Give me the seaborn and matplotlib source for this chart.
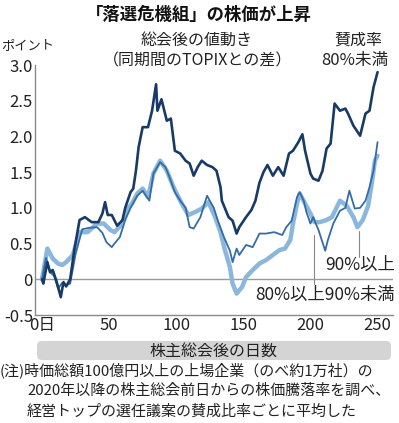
import matplotlib
matplotlib.use("Agg")
import matplotlib.pyplot as plt
from matplotlib.patches import FancyBboxPatch
import seaborn as sns
import pandas as pd

# ---- data ----
days_low = [0, 1, 4, 6, 8, 11, 14, 16, 18, 21, 24, 28, 32, 37, 42, 45, 47, 49, 52, 56,
            60, 62, 66, 68, 70, 72, 75, 79, 82, 85, 86, 89, 93, 96, 99, 103, 107, 110,
            113, 116, 119, 123, 127, 130, 133, 134, 139, 142, 145, 147, 152, 156, 159,
            162, 165, 168, 172, 176, 180, 184, 187, 191, 194, 196, 200, 202, 206, 209,
            212, 215, 218, 222, 226, 228, 232, 237, 241, 244, 247, 250]
vals_low = [0.0, -0.06, 0.24, 0.10, 0.13, -0.04, -0.25, -0.04, -0.10, 0.0, 0.40, 0.83,
            0.87, 0.80, 0.80, 0.92, 1.08, 0.90, 0.90, 0.75, 0.83, 1.00, 1.22, 1.27, 1.52,
            1.85, 2.13, 2.13, 2.36, 2.73, 2.36, 2.52, 2.22, 2.25, 1.80, 1.76, 1.66, 1.62,
            1.45, 1.57, 1.66, 1.60, 1.57, 1.52, 1.29, 1.10, 0.87, 0.82, 0.64, 0.73, 0.87,
            0.97, 1.10, 1.35, 1.50, 1.60, 1.45, 1.57, 1.45, 1.76, 1.80, 1.92, 2.03, 1.80,
            1.48, 1.41, 1.38, 1.52, 1.83, 1.90, 2.46, 2.36, 2.39, 2.32, 2.15, 2.01, 2.32,
            2.36, 2.69, 2.90]

days_mid = [0, 3, 6, 9, 12, 15, 18, 21, 25, 30, 35, 41, 45, 48, 52, 54, 58, 62, 66, 71,
            75, 80, 83, 88, 92, 95, 99, 103, 107, 110, 113, 118, 123, 125, 128, 131, 136,
            140, 142, 145, 147, 152, 157, 162, 167, 173, 179, 182, 186, 190, 192, 195,
            197, 200, 202, 206, 211, 213, 217, 222, 226, 229, 233, 237, 241, 244, 247, 250]
vals_mid = [0.0, 0.30, 0.10, 0.05, -0.13, -0.05, -0.08, -0.06, 0.35, 0.70, 0.72, 0.73,
            0.65, 0.52, 0.45, 0.50, 0.59, 0.83, 1.00, 1.17, 1.24, 1.10, 1.48, 1.64, 1.57,
            1.43, 1.22, 1.10, 1.00, 0.73, 0.71, 0.87, 1.17, 1.10, 1.00, 0.82, 0.57, 0.40,
            0.24, 0.43, 0.34, 0.48, 0.45, 0.64, 0.64, 0.66, 0.62, 0.73, 0.82, 1.15, 1.22,
            1.10, 0.94, 0.78, 0.87, 0.69, 0.40, 0.55, 0.78, 0.96, 1.00, 1.24, 0.99, 1.00,
            1.10, 1.29, 1.52, 1.92]

days_high = [0, 4, 8, 12, 15, 18, 23, 28, 34, 41, 46, 51, 54, 60, 63, 67, 71, 75, 79, 83,
             88, 93, 98, 103, 109, 114, 119, 124, 129, 133, 136, 140, 142, 145, 149, 152,
             157, 162, 167, 172, 177, 181, 185, 187, 190, 192, 196, 200, 203, 207, 212,
             216, 222, 227, 232, 235, 239, 243, 246, 248, 250]
vals_high = [0.0, 0.43, 0.29, 0.22, 0.20, 0.24, 0.34, 0.66, 0.66, 0.78, 0.78, 0.69, 0.66,
             0.78, 0.97, 1.06, 1.20, 1.27, 1.15, 1.48, 1.66, 1.52, 1.29, 1.10, 0.90, 0.94,
             0.99, 1.08, 0.87, 0.66, 0.43, 0.17, -0.06, -0.20, -0.11, 0.03, 0.13, 0.22,
             0.27, 0.34, 0.41, 0.43, 0.55, 0.78, 1.06, 1.20, 1.06, 0.92, 0.80, 0.80, 0.83,
             0.87, 1.10, 1.03, 0.87, 0.73, 0.83, 1.03, 1.38, 1.66, 1.73]

y_ticks = [-0.5, 0, 0.5, 1.0, 1.5, 2.0, 2.5, 3.0]
y_ticklabels = ["-0.5", "0", "0.5", "1.0", "1.5", "2.0", "2.5", "3.0"]
x_ticks = [0, 50, 100, 150, 200, 250]
x_ticklabels = ["0日", "50", "100", "150", "200", "250"]

# ---- style ----
sns.set_style("white")
plt.rcParams['font.family'] = ['Noto Sans CJK JP', 'DejaVu Sans']

W, H = 399, 423
fig = plt.figure(figsize=(W / 100, H / 100), dpi=100)
ax = fig.add_axes([35 / W, 1 - 315 / H, (393 - 35) / W, (315 - 65) / H])

c_low = "#173a66"
c_mid = "#336ca8"
c_high = "#8bb7dc"

df_high = pd.DataFrame({"day": days_high, "v": vals_high})
df_mid = pd.DataFrame({"day": days_mid, "v": vals_mid})
df_low = pd.DataFrame({"day": days_low, "v": vals_low})

ax.axhline(0, color="#9a9a9a", lw=1.0, zorder=1)
sns.lineplot(data=df_high, x="day", y="v", ax=ax, color=c_high, lw=3.2, zorder=3)
sns.lineplot(data=df_mid, x="day", y="v", ax=ax, color=c_mid, lw=1.3, zorder=4)
sns.lineplot(data=df_low, x="day", y="v", ax=ax, color=c_low, lw=1.9, zorder=5)

# leader lines
ax.plot([236, 236], [0.68, 0.31], color="#888888", lw=0.8, zorder=2)
ax.plot([203, 203], [0.62, -0.06], color="#888888", lw=0.8, zorder=2)

ax.set_xlim(-5.2, 261.5)
ax.set_ylim(-0.5, 3.0)
ax.set_xlabel("")
ax.set_ylabel("")
ax.set_xticks(x_ticks)
ax.set_xticklabels(x_ticklabels)
ax.set_yticks(y_ticks)
ax.set_yticklabels(y_ticklabels)
for s in ["top", "right"]:
    ax.spines[s].set_visible(False)
for s in ["left", "bottom"]:
    ax.spines[s].set_color("#8a8a8a")
    ax.spines[s].set_linewidth(1.0)
ax.tick_params(axis="both", direction="in", length=6, width=1.0, color="#8a8a8a",
               labelsize=12, labelcolor="#222222")
ax.tick_params(axis="y", pad=1.5)
ax.tick_params(axis="x", pad=1.5)

# ---- texts ----
def ft(xp, yp, s, **kw):
    fig.text(xp / W, 1 - yp / H, s, **kw)

ft(199, 15, "「落選危機組」の株価が上昇", ha="center", va="center", fontsize=12.5,
   fontweight="bold", color="#111111")
ft(1, 46, "ポイント", ha="left", va="center", fontsize=9.5, color="#222222")
ft(197, 40, "総会後の値動き", ha="center", va="center", fontsize=11.5, color="#222222")
ft(198, 61, "（同期間のTOPIXとの差）", ha="center", va="center", fontsize=11.5, color="#222222")
ft(358, 40, "賛成率", ha="center", va="center", fontsize=11.5, color="#222222")
ft(355, 61, "80%未満", ha="center", va="center", fontsize=12, color="#222222")
ft(395, 265, "90%以上", ha="right", va="center", fontsize=12.5, color="#222222")
ft(395, 295, "80%以上90%未満", ha="right", va="center", fontsize=12.5, color="#222222")

# x-axis label band
band = FancyBboxPatch((37 / W, 1 - 360 / H), (391 - 37) / W, (360 - 341) / H,
                      boxstyle="round,pad=0,rounding_size=0.012",
                      transform=fig.transFigure, facecolor="#d4d4d4",
                      edgecolor="none", zorder=0)
fig.patches.append(band)
ft(213, 351, "株主総会後の日数", ha="center", va="center", fontsize=11.5, color="#222222")

# notes
ft(0, 370, "(注)時価総額100億円以上の上場企業（のべ約1万社）の", ha="left", va="center",
   fontsize=10.8, color="#222222")
ft(27, 391, "2020年以降の株主総会前日からの株価騰落率を調べ、", ha="left", va="center",
   fontsize=10.8, color="#222222")
ft(27, 412, "経営トップの選任議案の賛成比率ごとに平均した", ha="left", va="center",
   fontsize=10.8, color="#222222")

fig.savefig("out.png", dpi=100)
